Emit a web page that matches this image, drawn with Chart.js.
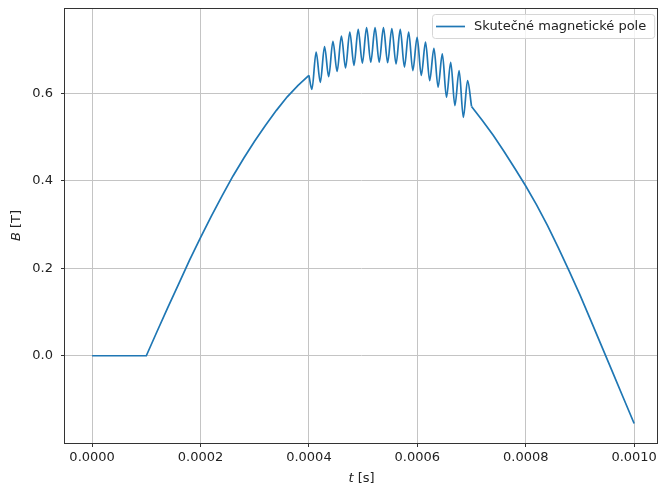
<!DOCTYPE html>
<html>
<head>
<meta charset="utf-8">
<script src="https://cdn.jsdelivr.net/npm/chart.js@4.4.0/dist/chart.umd.min.js"></script>
<style>
  html, body { margin: 0; padding: 0; background: #fff; }
  canvas { display: block; }
</style>
</head>
<body>
<canvas id="myChart" width="659" height="488"></canvas>
<script>
// tick labels
const xTicks = [0, 0.0002, 0.0004, 0.0006, 0.0008, 0.001]
const yTicks = [0, 0.2, 0.4, 0.6]
const legendLabel = 'Skutečné magnetické pole'

// smooth rising part (t in s, B in T)
const riseTime = [0, 0.0001, 0.00012, 0.00014, 0.00016, 0.00018, 0.0002, 0.00022, 0.00024,
    0.00026, 0.00028, 0.0003, 0.00032, 0.00034, 0.00036, 0.00038, 0.0004]
const riseField = [0, 0, 0.056, 0.111, 0.165, 0.219, 0.270, 0.319, 0.366,
    0.411, 0.452, 0.491, 0.527, 0.561, 0.592, 0.618, 0.641]

// oscillating part: start, then troughs and peaks one after another, then end
const oscTime = [0.0004,
    0.0004055, 0.0004133, 0.0004210, 0.0004288, 0.0004365, 0.0004443, 0.0004520, 0.0004599,
    0.0004676, 0.0004754, 0.0004831, 0.0004909, 0.0004986, 0.0005064, 0.0005141, 0.0005220,
    0.0005297, 0.0005375, 0.0005452, 0.0005530, 0.0005607, 0.0005685, 0.0005762, 0.0005840,
    0.0005917, 0.0005996, 0.0006073, 0.0006151, 0.0006228, 0.0006306, 0.0006383, 0.0006461,
    0.0006538, 0.0006616, 0.0006693, 0.0006771, 0.0006849, 0.0006927,
    0.0007]
const oscField = [0.641,
    0.609, 0.694, 0.625, 0.707, 0.638, 0.719, 0.650, 0.731,
    0.658, 0.740, 0.664, 0.746, 0.669, 0.750, 0.671, 0.750,
    0.671, 0.750, 0.670, 0.748, 0.667, 0.746, 0.660, 0.740,
    0.652, 0.728, 0.641, 0.717, 0.629, 0.703, 0.614, 0.690,
    0.591, 0.671, 0.572, 0.652, 0.545, 0.629,
    0.570]

// smooth falling part
const fallTime = [0.0007, 0.00072, 0.00074, 0.00076, 0.00078, 0.0008, 0.00082, 0.00084,
    0.00086, 0.00088, 0.0009, 0.00092, 0.00094, 0.00096, 0.00098, 0.001]
const fallField = [0.570, 0.538, 0.504, 0.467, 0.428, 0.388, 0.345, 0.298,
    0.247, 0.194, 0.139, 0.081, 0.022, -0.037, -0.096, -0.155]

const lineColor = '#1f77b4'
const textColor = '#222222'
const fontFamily = "'DejaVu Sans', sans-serif"
const fontSize = 13

function toPoints(times, values) {
    return times.map((t, i) => ({ x: t, y: values[i] }))
}

function lineDataset(times, values, smooth) {
    return {
        label: legendLabel,
        data: toPoints(times, values),
        borderColor: lineColor,
        borderWidth: 1.7,
        pointRadius: 0,
        fill: false,
        tension: smooth ? 0.4 : 0,
        cubicInterpolationMode: smooth ? 'monotone' : 'default'
    }
}

// frame round the plot area
const framePlugin = {
    id: 'frame',
    afterDraw(chart) {
        const { ctx, chartArea } = chart
        ctx.save()
        ctx.strokeStyle = '#333333'
        ctx.lineWidth = 1
        ctx.strokeRect(Math.round(chartArea.left) - 0.5, Math.round(chartArea.top) + 0.5,
            Math.round(chartArea.right - chartArea.left), Math.round(chartArea.bottom - chartArea.top))
        ctx.restore()
    }
}

// axis titles with an italic symbol
function drawMixedTitle(ctx, symbol, unit) {
    ctx.font = 'italic ' + fontSize + 'px ' + fontFamily
    const w1 = ctx.measureText(symbol).width
    ctx.font = fontSize + 'px ' + fontFamily
    const w2 = ctx.measureText(unit).width
    let x = -(w1 + w2) / 2
    ctx.textBaseline = 'middle'
    ctx.textAlign = 'left'
    ctx.fillStyle = textColor
    ctx.font = 'italic ' + fontSize + 'px ' + fontFamily
    ctx.fillText(symbol, x, 0)
    ctx.font = fontSize + 'px ' + fontFamily
    ctx.fillText(unit, x + w1, 0)
}

const titlesPlugin = {
    id: 'titles',
    afterDraw(chart) {
        const { ctx, chartArea } = chart
        ctx.save()
        ctx.translate((chartArea.left + chartArea.right) / 2, 479)
        drawMixedTitle(ctx, 't', ' [s]')
        ctx.restore()

        ctx.save()
        ctx.translate(17, (chartArea.top + chartArea.bottom) / 2)
        ctx.rotate(-Math.PI / 2)
        drawMixedTitle(ctx, 'B', ' [T]')
        ctx.restore()
    }
}

// legend box in the upper right corner
const legendPlugin = {
    id: 'legendBox',
    afterDatasetsDraw(chart) {
        const { ctx, chartArea } = chart
        ctx.save()
        ctx.font = fontSize + 'px ' + fontFamily
        const textW = ctx.measureText(legendLabel).width
        const boxW = textW + 50
        const boxH = 24
        const x0 = Math.round(chartArea.right - 4 - boxW)
        const y0 = Math.round(chartArea.top + 6)
        ctx.beginPath()
        ctx.roundRect(x0 + 0.5, y0 + 0.5, boxW, boxH, 3)
        ctx.fillStyle = 'rgba(255,255,255,0.8)'
        ctx.fill()
        ctx.strokeStyle = '#d6d6d6'
        ctx.lineWidth = 1
        ctx.stroke()

        const cy = y0 + boxH / 2 + 0.5
        ctx.beginPath()
        ctx.moveTo(x0 + 4, cy)
        ctx.lineTo(x0 + 33, cy)
        ctx.strokeStyle = lineColor
        ctx.lineWidth = 1.7
        ctx.stroke()

        ctx.fillStyle = textColor
        ctx.textBaseline = 'middle'
        ctx.textAlign = 'left'
        ctx.fillText(legendLabel, x0 + 42, cy)
        ctx.restore()
    }
}

const ctx = document.getElementById('myChart').getContext('2d')
const myChart = new Chart(ctx, {
    type: 'line',
    data: {
        datasets: [
            lineDataset(riseTime, riseField, false),
            lineDataset(oscTime, oscField, true),
            lineDataset(fallTime, fallField, false)
        ]
    },
    options: {
        responsive: false,
        animation: false,
        devicePixelRatio: 1,
        layout: { padding: { left: 0, right: 1, top: 8, bottom: 0 } },
        plugins: {
            legend: { display: false },
            tooltip: { enabled: false }
        },
        scales: {
            x: {
                type: 'linear',
                min: -0.00005,
                max: 0.001044,
                afterBuildTicks: (scale) => { scale.ticks = xTicks.map(v => ({ value: v })) },
                afterFit: (scale) => {
                    scale.height = 45
                    scale.paddingLeft = 0
                    scale.paddingRight = 0
                },
                border: { display: false },
                grid: { color: '#c4c4c4', lineWidth: 1, tickColor: '#333333', tickLength: 4, tickWidth: 1 },
                ticks: {
                    color: textColor,
                    font: { family: fontFamily, size: fontSize },
                    padding: 3,
                    maxRotation: 0,
                    autoSkip: false,
                    callback: (v) => v.toFixed(4)
                }
            },
            y: {
                type: 'linear',
                min: -0.1995,
                max: 0.795,
                afterBuildTicks: (scale) => { scale.ticks = yTicks.map(v => ({ value: v })) },
                afterFit: (scale) => {
                    scale.width = 65
                    scale.paddingTop = 0
                    scale.paddingBottom = 0
                },
                border: { display: false },
                grid: { color: '#c4c4c4', lineWidth: 1, tickColor: '#333333', tickLength: 4, tickWidth: 1 },
                ticks: {
                    color: textColor,
                    font: { family: fontFamily, size: fontSize },
                    padding: 8,
                    callback: (v) => v.toFixed(1)
                }
            }
        }
    },
    plugins: [framePlugin, titlesPlugin, legendPlugin]
})
</script>
</body>
</html>
